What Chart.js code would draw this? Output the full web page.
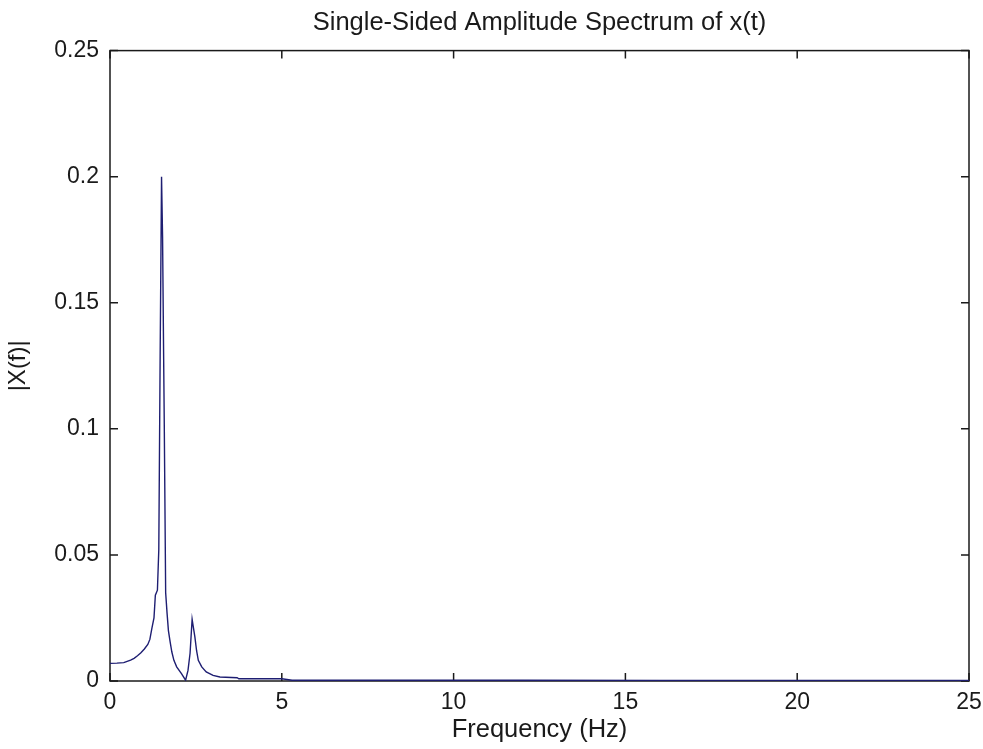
<!DOCTYPE html>
<html>
<head>
<meta charset="utf-8">
<title>Single-Sided Amplitude Spectrum</title>
<script src="https://cdn.jsdelivr.net/npm/chart.js@4/dist/chart.umd.min.js"></script>
<style>
    html, body { margin: 0; padding: 0; background: #fff; }
    #wrap { width: 983px; height: 749px; }
</style>
</head>
<body>
<div id="wrap"><canvas id="spectrum" width="983" height="749"></canvas></div>
<script>
// spectrum samples (Hz, |X(f)|)
const freqHz = [0, 0.2, 0.4, 0.5, 0.6, 0.7, 0.8, 0.9, 1.0, 1.1, 1.16, 1.22, 1.28, 1.32, 1.38, 1.42, 1.46, 1.5,
    1.53, 1.56, 1.58, 1.62, 1.66, 1.7, 1.75, 1.8, 1.86, 1.94, 2.08, 2.2,
    2.27, 2.33, 2.39, 2.43, 2.47, 2.52, 2.57, 2.67, 2.8, 3.0, 3.2, 3.7, 3.75, 5.0, 5.3, 8, 12, 16, 20, 25];
const amplitude = [0.0070, 0.0071, 0.0073, 0.0078, 0.0083, 0.0090, 0.0100, 0.0112, 0.0127, 0.0145, 0.0165, 0.0210, 0.0250, 0.0340, 0.0360, 0.0520, 0.1300, 0.2000,
    0.1760, 0.1300, 0.1010, 0.0350, 0.0270, 0.0200, 0.0155, 0.0115, 0.0082, 0.0056, 0.0029, 0.0003,
    0.0042, 0.0110, 0.0245, 0.0210, 0.0175, 0.0120, 0.0082, 0.0056, 0.0036, 0.0022, 0.0016, 0.0013, 0.0009, 0.0009, 0.0003, 0.0003, 0.0003, 0.0002, 0.0002, 0.0002];

const xTicks = [0, 5, 10, 15, 20, 25];
const yTicks = [0, 0.05, 0.1, 0.15, 0.2, 0.25];

const FONT = "'Liberation Sans', Arial, sans-serif";
const INK = '#1a1a1a';

// MATLAB style box with inward ticks on all four sides
const frameTicks = {
    id: 'frameTicks',
    beforeDatasetsDraw(chart) {
        const { ctx, chartArea: a, scales: { x, y } } = chart;
        ctx.save();
        ctx.strokeStyle = INK;
        ctx.lineWidth = 1.5;
        ctx.strokeRect(a.left, a.top, a.right - a.left, a.bottom - a.top);
        ctx.beginPath();
        x.ticks.forEach(t => {
            const px = x.getPixelForValue(t.value);
            ctx.moveTo(px, a.bottom); ctx.lineTo(px, a.bottom - 8);
            ctx.moveTo(px, a.top); ctx.lineTo(px, a.top + 8);
        });
        y.ticks.forEach(t => {
            const py = y.getPixelForValue(t.value);
            ctx.moveTo(a.left, py); ctx.lineTo(a.left + 8, py);
            ctx.moveTo(a.right, py); ctx.lineTo(a.right - 8, py);
        });
        ctx.stroke();
        ctx.restore();
    }
};

const points = freqHz.map((f, i) => ({ x: f, y: amplitude[i] }));

new Chart(document.getElementById('spectrum'), {
    type: 'scatter',
    data: {
        datasets: [{
            data: points,
            showLine: true,
            borderColor: '#1e1e72',
            borderWidth: 1.4,
            pointRadius: 0,
            tension: 0
        }]
    },
    options: {
        responsive: false,
        animation: false,
        layout: { padding: { left: 0, right: 14, top: 0, bottom: 0 } },
        plugins: {
            legend: { display: false },
            tooltip: { enabled: false },
            title: {
                display: true,
                fullSize: false,
                text: 'Single-Sided Amplitude Spectrum of x(t)',
                color: INK,
                font: { family: FONT, size: 25.5, weight: 'normal' },
                padding: { top: 8, bottom: 12 }
            }
        },
        scales: {
            x: {
                type: 'linear',
                min: 0, max: 25,
                afterBuildTicks: s => { s.ticks = xTicks.map(v => ({ value: v })); },
                afterFit: s => { s.height = 68; },
                grid: { display: false },
                border: { display: false },
                ticks: { color: INK, padding: 0, maxRotation: 0, font: { family: FONT, size: 23 } },
                title: {
                    display: true, text: 'Frequency (Hz)', color: INK,
                    font: { family: FONT, size: 25.5 }, padding: { top: 4, bottom: 4 }
                }
            },
            y: {
                type: 'linear',
                min: 0, max: 0.25,
                afterBuildTicks: s => { s.ticks = yTicks.map(v => ({ value: v })); },
                afterFit: s => { s.width = 110; },
                grid: { display: false },
                border: { display: false },
                ticks: {
                    color: INK, padding: 3, font: { family: FONT, size: 23 },
                    callback: v => String(+v.toFixed(2))
                },
                title: {
                    display: true, text: '|X(f)|', color: INK,
                    font: { family: FONT, size: 24 }, padding: { top: 4, bottom: 4 }
                }
            }
        }
    },
    plugins: [frameTicks]
});
</script>
</body>
</html>
